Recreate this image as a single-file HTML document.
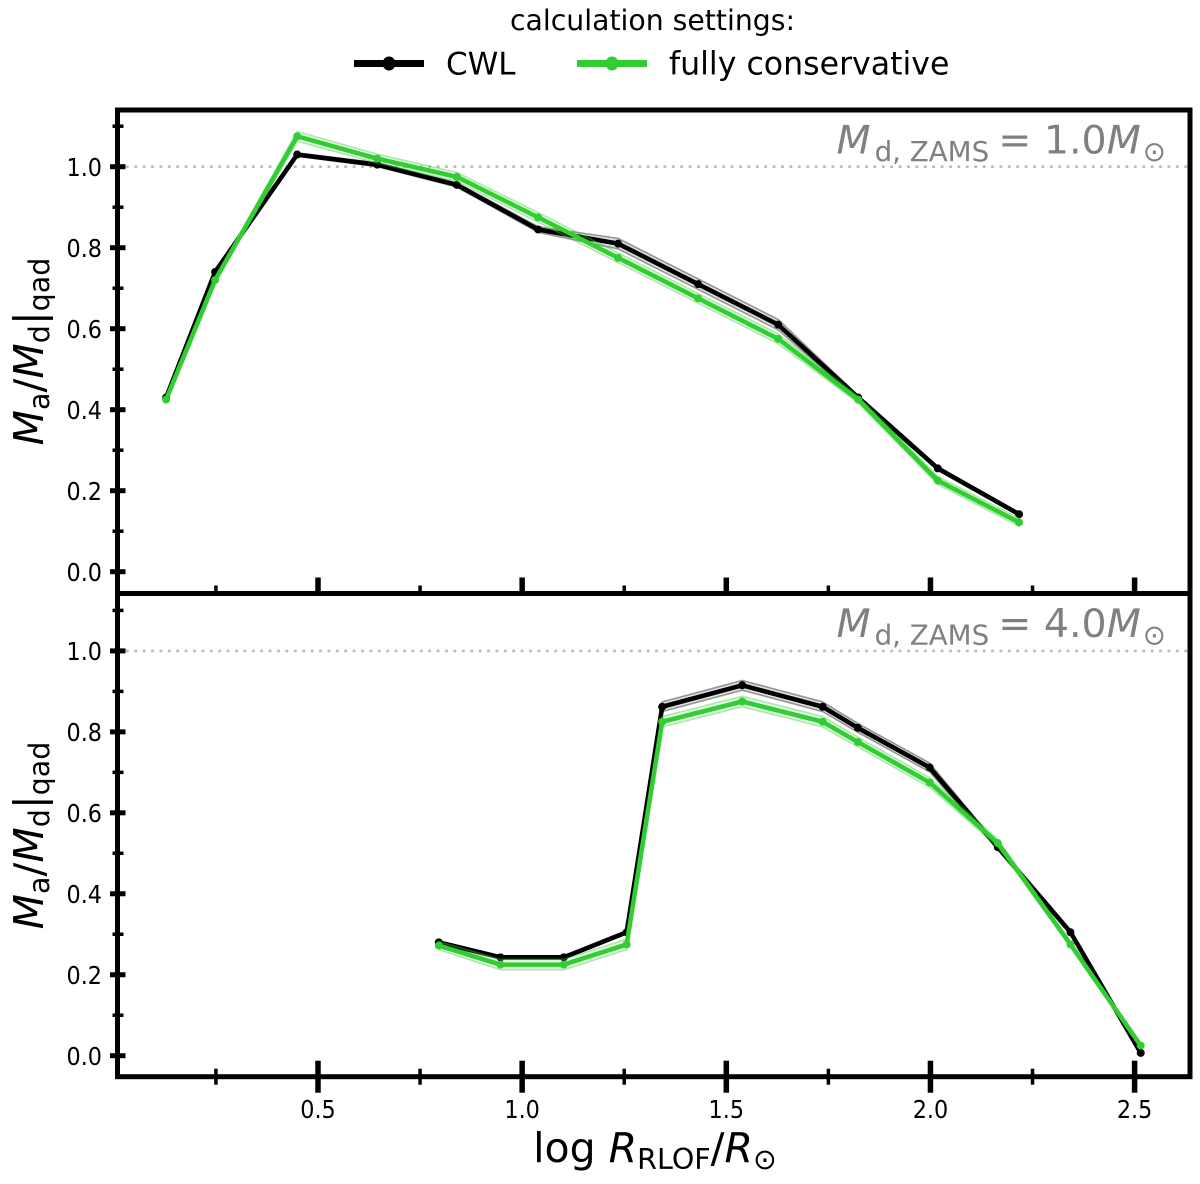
<!DOCTYPE html>
<html lang="en">
<head>
<meta charset="utf-8">
<title>Ma/Md vs log RRLOF</title>
<style>
html,body{margin:0;padding:0;background:#fff;}
svg{display:block;font-family:"DejaVu Sans","Liberation Sans",sans-serif;}
.mi{font-style:italic;}
</style>
</head>
<body>
<svg id="chart" width="1200" height="1184" viewBox="0 0 1200 1184" xmlns="http://www.w3.org/2000/svg">
  <rect x="0" y="0" width="1200" height="1184" fill="#fff"/>
  <g id="plot"></g>

  <!-- Legend -->
  <g>
    <text x="652.5" y="30" font-size="28.3" text-anchor="middle" fill="#000">calculation settings:</text>
    <g>
      <line x1="354" x2="424" y1="63.5" y2="63.5" stroke="#000" stroke-width="7"/>
      <ellipse cx="389" cy="63.5" rx="6.5" ry="7" fill="#000"/>
      <text x="446" y="74.5" font-size="31" fill="#000">CWL</text>
    </g>
    <g>
      <line x1="577" x2="647" y1="63.5" y2="63.5" stroke="#32cd32" stroke-width="7"/>
      <ellipse cx="612" cy="63.5" rx="6.5" ry="7" fill="#32cd32"/>
      <text x="669" y="74.5" font-size="31.6" fill="#000">fully conservative</text>
    </g>
  </g>

  <!-- Panel annotations -->
  <text x="836.5" y="153.5" font-size="39.5" fill="#808080"><tspan class="mi">M</tspan><tspan font-size="27.7" dx="4" dy="7.5">d, ZAMS</tspan><tspan dx="-3.5" dy="-7.5"> = 1.0</tspan><tspan class="mi">M</tspan><tspan font-size="27.7" dx="2" dy="7.5">⊙</tspan></text>
  <text x="836.5" y="637" font-size="39.5" fill="#808080"><tspan class="mi">M</tspan><tspan font-size="27.7" dx="4" dy="7.5">d, ZAMS</tspan><tspan dx="-3.5" dy="-7.5"> = 4.0</tspan><tspan class="mi">M</tspan><tspan font-size="27.7" dx="2" dy="7.5">⊙</tspan></text>

  <!-- Axis titles -->
  <text transform="translate(43,351.5) rotate(-90)" text-anchor="middle" font-size="41" fill="#000"><tspan class="mi">M</tspan><tspan font-size="28.5" dy="6">a</tspan><tspan dy="-6">/</tspan><tspan class="mi">M</tspan><tspan font-size="28.5" dy="6">d</tspan><tspan dy="-6">|</tspan><tspan font-size="28.5" dy="6">qad</tspan></text>
  <text transform="translate(43,835.5) rotate(-90)" text-anchor="middle" font-size="41" fill="#000"><tspan class="mi">M</tspan><tspan font-size="28.5" dy="6">a</tspan><tspan dy="-6">/</tspan><tspan class="mi">M</tspan><tspan font-size="28.5" dy="6">d</tspan><tspan dy="-6">|</tspan><tspan font-size="28.5" dy="6">qad</tspan></text>
  <text x="655" y="1162" text-anchor="middle" font-size="41" fill="#000">log <tspan class="mi">R</tspan><tspan font-size="28.5" dy="7">RLOF</tspan><tspan dy="-7">/</tspan><tspan class="mi">R</tspan><tspan font-size="28.5" dy="7">⊙</tspan></text>
</svg>

<script>
// ---- Data ----
const topLogR = [0.128,0.248,0.449,0.645,0.840,1.039,1.235,1.431,1.627,1.823,2.018,2.217];
const topCwl = [0.430,0.740,1.030,1.005,0.955,0.845,0.810,0.710,0.610,0.430,0.255,0.142];
const topCons = [0.425,0.720,1.075,1.020,0.975,0.875,0.775,0.675,0.575,0.425,0.225,0.122];
const topCwlErr = [0.003,0.003,0.004,0.005,0.005,0.007,0.013,0.013,0.013,0.005,0.005,0.003];
const topConsErr = [0.003,0.006,0.012,0.011,0.011,0.012,0.012,0.012,0.012,0.008,0.010,0.010];

const botLogR = [0.796,0.947,1.102,1.256,1.343,1.539,1.736,1.822,1.998,2.165,2.343,2.515];
const botCwl = [0.280,0.243,0.243,0.305,0.862,0.915,0.862,0.810,0.712,0.515,0.305,0.007];
const botCons = [0.272,0.225,0.225,0.275,0.825,0.875,0.825,0.775,0.675,0.525,0.275,0.025];
const botCwlErr = [0.003,0.004,0.004,0.004,0.012,0.012,0.012,0.011,0.011,0.005,0.003,0.002];
const botConsErr = [0.010,0.013,0.013,0.013,0.013,0.013,0.013,0.012,0.012,0.009,0.006,0.003];

const xMajorTicks = [0.5,1.0,1.5,2.0,2.5];
const xMinorTicks = [0.25,0.75,1.25,1.75,2.25];
const xTickLabels = ["0.5","1.0","1.5","2.0","2.5"];
const yMajorTicks = [0.0,0.2,0.4,0.6,0.8,1.0];
const yMinorTicks = [0.1,0.3,0.5,0.7,0.9,1.1];
const yTickLabels = ["0.0","0.2","0.4","0.6","0.8","1.0"];

// ---- Scales ----
const NS = "http://www.w3.org/2000/svg";
const plot = document.getElementById("plot");
const LEFT = 117.5, RIGHT = 1190, TOP = 110, MID = 593.5, BOTTOM = 1076.7;
function xScale(v){ return 318 + (v - 0.5) * 408.3; }
function yTop(v){ return 571.7 - v * 405; }
function yBot(v){ return 1055.7 - v * 404.8; }
function mk(tag, attrs, parent){
  const n = document.createElementNS(NS, tag);
  for (const k in attrs) n.setAttribute(k, attrs[k]);
  (parent || plot).appendChild(n);
  return n;
}

function drawSeries(xs, ys, errs, yScale, color, label){
  const upper = xs.map((x,i) => xScale(x).toFixed(2) + "," + yScale(ys[i] + errs[i]).toFixed(2));
  const lower = xs.map((x,i) => xScale(x).toFixed(2) + "," + yScale(ys[i] - errs[i]).toFixed(2)).reverse();
  const band = mk("polygon", {points: upper.concat(lower).join(" "), fill: color, "fill-opacity": 0.12, stroke: color, "stroke-opacity": 0.38, "stroke-width": 1.6});
  
  
  const pts = xs.map((x,i) => xScale(x).toFixed(2) + "," + yScale(ys[i]).toFixed(2)).join(" ");
  const line = mk("polyline", {points: pts, fill: "none", stroke: color, "stroke-width": 4.6, "stroke-linejoin": "round"});
  
  
  xs.forEach((x,i) => {
    const dot = mk("circle", {cx: xScale(x).toFixed(2), cy: yScale(ys[i]).toFixed(2), r: 4, fill: color});
    
    
  });
}

function drawPanel(yScale, top, bottom, xs, cwl, cons, cwlErr, consErr, label, isLast){
  const dotted = mk("line", {x1: LEFT, x2: RIGHT, y1: yScale(1), y2: yScale(1), stroke: "#bbbbbb", "stroke-width": 2.6, "stroke-dasharray": "2.8 5.6"});
  
  

  drawSeries(xs, cwl, cwlErr, yScale, "#000000", label + "-cwl");
  drawSeries(xs, cons, consErr, yScale, "#32cd32", label + "-conservative");

  yMajorTicks.forEach((v,i) => {
    const t = mk("line", {x1: 110, x2: 125.5, y1: yScale(v), y2: yScale(v), stroke: "#000", "stroke-width": 5});
    
    
    const l = mk("text", {x: 66.5, y: yScale(v) + 9.2, "font-size": 25, textLength: 35.5, lengthAdjust: "spacingAndGlyphs", fill: "#000"});
    l.textContent = yTickLabels[i];
    
    
  });
  yMinorTicks.forEach(v => {
    const t = mk("line", {x1: 112.5, x2: 123.5, y1: yScale(v), y2: yScale(v), stroke: "#000", "stroke-width": 3.5});
    
    
  });

  xMajorTicks.forEach((v,i) => {
    const t = mk("line", {x1: xScale(v), x2: xScale(v), y1: bottom - 16, y2: isLast ? bottom + 16 : bottom, stroke: "#000", "stroke-width": 5.5});
    
    
    if (isLast) {
      const l = mk("text", {x: xScale(v) - 17.75, y: 1118, "font-size": 25, textLength: 35.5, lengthAdjust: "spacingAndGlyphs", fill: "#000"});
      l.textContent = xTickLabels[i];
      
      
    }
  });
  xMinorTicks.forEach(v => {
    const t = mk("line", {x1: xScale(v), x2: xScale(v), y1: bottom - 8, y2: isLast ? bottom + 8 : bottom, stroke: "#000", "stroke-width": 3.5});
    
    
  });

  const frame = mk("rect", {x: LEFT, y: top, width: RIGHT - LEFT, height: bottom - top, fill: "none", stroke: "#000", "stroke-width": 5});
  
  
}

drawPanel(yTop, TOP, MID, topLogR, topCwl, topCons, topCwlErr, topConsErr, "top", false);
drawPanel(yBot, MID, BOTTOM, botLogR, botCwl, botCons, botCwlErr, botConsErr, "bottom", true);
</script>
</body>
</html>
